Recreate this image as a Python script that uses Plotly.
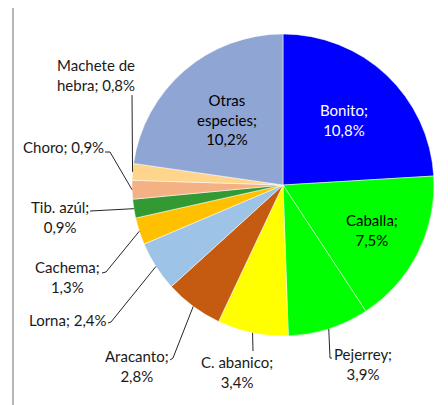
import math
import plotly.graph_objects as go

# ---- data ----
species = ["Bonito", "Caballa", "Pejerrey", "C. abanico", "Aracanto", "Lorna",
           "Cachema", "Tib. azúl", "Choro", "Machete de hebra", "Otras especies"]
values = [10.8, 7.5, 3.9, 3.4, 2.8, 2.4, 1.3, 0.9, 0.9, 0.8, 10.2]
value_labels = ["10,8%", "7,5%", "3,9%", "3,4%", "2,8%", "2,4%", "1,3%", "0,9%", "0,9%", "0,8%", "10,2%"]

# ---- style ----
colors = ["#0000FF", "#00FF00", "#00FF00", "#FFFF00", "#C55A11", "#9DC3E6",
          "#FFC000", "#339933", "#F4B183", "#FFD58C", "#8FA5D3"]
W, H = 448, 405
OFF = 8  # page body margin in the browser
CX, CY, R = 283, 185, 151
FONT = "Lato"
FS = 15

label_text = {
    "Bonito": "Bonito;<br>{v}",
    "Caballa": "Caballa;<br>{v}",
    "Otras especies": "Otras<br>especies;<br>{v}",
    "Pejerrey": "Pejerrey;<br>{v}",
    "C. abanico": "C. abanico;<br>{v}",
    "Aracanto": "Aracanto;<br>{v}",
    "Lorna": "Lorna; {v}",
    "Cachema": "Cachema;<br>{v}",
    "Tib. azúl": "Tib. azúl;<br>{v}",
    "Choro": "Choro; {v}",
    "Machete de hebra": "Machete de<br>hebra; {v}",
}
inside = {"Bonito": (0.59, "white"), "Caballa": (0.66, "black"), "Otras especies": (0.57, "black")}
outside = {
    "Pejerrey": ((363, 364), [(332, 358), (330, 358)]),
    "C. abanico": ((237, 372), [(253, 351)]),
    "Aracanto": ((137, 366), [(170, 360), (173, 358)]),
    "Lorna": ((68, 320), [(108, 323), (111, 322)]),
    "Cachema": ((67, 277), [(102, 273), (106, 272)]),
    "Tib. azúl": ((60, 217), [(90, 211)]),
    "Choro": ((63, 147), [(105, 152), (110, 152)]),
    "Machete de hebra": ((96, 75), [(132, 95)]),
}


def px(x):
    return (x - OFF) / W


def py(y):
    return 1 - (y - OFF) / H


fig = go.Figure(go.Pie(
    labels=species, values=values, sort=False, direction="clockwise", rotation=0,
    marker=dict(colors=colors, line=dict(color="white", width=0.5)),
    textinfo="none", hoverinfo="label+percent", showlegend=False,
    domain=dict(x=[px(CX - R), px(CX + R)], y=[py(CY + R), py(CY - R)]),
))

total = sum(values)
annotations = []
shapes = []
cum = 0.0
for name, v, vl in zip(species, values, value_labels):
    mid = (cum + v / 2) / total * 2 * math.pi
    cum += v
    txt = label_text[name].format(v=vl)
    if name in inside:
        frac, col = inside[name]
        x = CX + frac * R * math.sin(mid)
        y = CY - frac * R * math.cos(mid)
        annotations.append(dict(x=px(x), y=py(y), xref="paper", yref="paper", text=txt,
                                xanchor="center", yanchor="middle",
                                showarrow=False, font=dict(family=FONT, size=FS, color=col)))
    else:
        (tx, ty), elbows = outside[name]
        ex = CX + R * math.sin(mid)
        ey = CY - R * math.cos(mid)
        annotations.append(dict(x=px(tx), y=py(ty), xref="paper", yref="paper", text=txt,
                                xanchor="center", yanchor="middle",
                                showarrow=False, font=dict(family=FONT, size=FS, color="#1a1a1a")))
        pts = elbows + [(ex, ey)]
        path = "M " + " L ".join(f"{px(a)},{py(b)}" for a, b in pts)
        shapes.append(dict(type="path", xref="paper", yref="paper", path=path,
                           line=dict(color="#262626", width=1)))

shapes.append(dict(type="rect", xref="paper", yref="paper", x0=px(13), y0=py(430), x1=px(480), y1=py(5),
                   line=dict(color="#A0A0A0", width=1.5), fillcolor="rgba(0,0,0,0)"))

fig.update_layout(width=W, height=H, margin=dict(l=0, r=0, t=0, b=0),
                  paper_bgcolor="white", plot_bgcolor="white",
                  annotations=annotations, shapes=shapes,
                  font=dict(family=FONT, size=FS))
fig.write_html("out.html")
